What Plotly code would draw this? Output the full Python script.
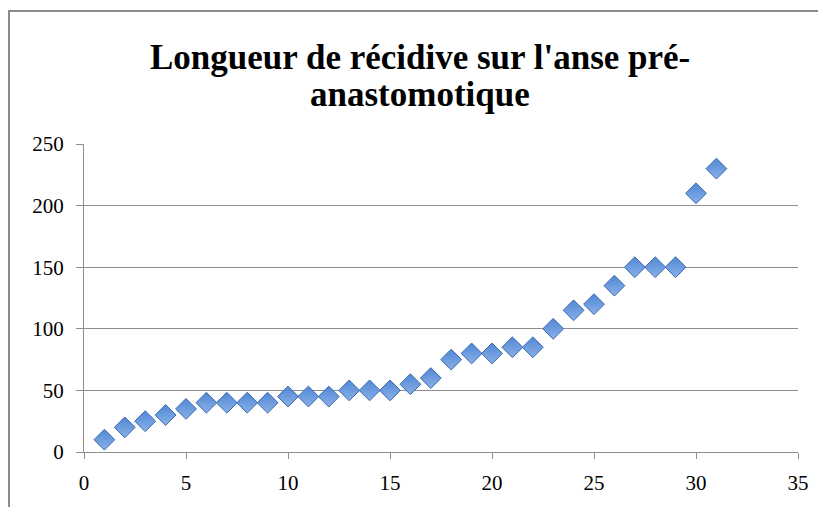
import plotly.graph_objects as go

# valeurs
patients = list(range(1, 32))
longueur = [10, 20, 25, 30, 35, 40, 40, 40, 40, 45, 45, 45, 50, 50, 50, 55, 60,
            75, 80, 80, 85, 85, 100, 115, 120, 135, 150, 150, 150, 210, 230]
x_ticks = [0, 5, 10, 15, 20, 25, 30, 35]
y_ticks = [0, 50, 100, 150, 200, 250]

titre = ["Longueur de récidive sur l'anse pré-", "anastomotique"]
grid = "#8e8e8e"
police = "Liberation Serif"

# la page a une marge de 8px autour du graphique
L, T, PW, PH = 76, 136, 714, 308

fig = go.Figure(go.Scatter(
    x=patients, y=longueur, mode="markers",
    marker=dict(symbol="diamond", size=16, color="#5088d4",
                gradient=dict(type="vertical", color="#8ab0e8"),
                line=dict(color="#3a68ad", width=1)),
    showlegend=False))

fig.update_layout(
    width=818, height=499,
    margin=dict(l=L, r=28, t=T, b=55),
    paper_bgcolor="white", plot_bgcolor="white",
    font=dict(family=police, size=21, color="black"),
)
for ligne, yp in zip(titre, [50, 87]):
    fig.add_annotation(text=ligne, xref="paper", yref="paper",
                       x=(411.5 - L) / PW, y=1 + (T - yp) / PH,
                       xanchor="center", yanchor="middle", showarrow=False,
                       font=dict(family=police, size=35, color="black", weight="bold"))

fig.update_xaxes(range=[0, 35], tickvals=x_ticks, showgrid=False, zeroline=False,
                 showline=True, linecolor=grid, linewidth=1,
                 ticks="outside", ticklen=6, tickcolor=grid,
                 ticklabelstandoff=6)
fig.update_yaxes(range=[0, 250], tickvals=y_ticks, showgrid=True, gridcolor=grid,
                 gridwidth=1, zeroline=False, showline=True, linecolor=grid,
                 linewidth=1, ticks="outside", ticklen=7, tickcolor=grid,
                 ticklabelstandoff=8)
# cadre du graphique
fig.add_shape(type="rect", xref="paper", yref="paper",
              x0=(1 - L) / PW, x1=1.2, y0=-0.5, y1=1 + (T - 3) / PH,
              line=dict(color="#8a8a8a", width=2), layer="below")

fig.write_html("out.html")
